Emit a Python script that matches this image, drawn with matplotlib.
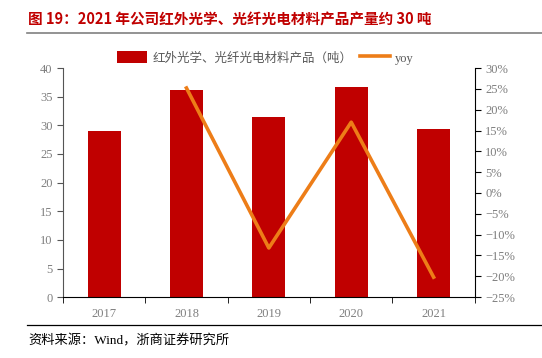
import matplotlib

matplotlib.use("Agg")
import matplotlib.pyplot as plt  # noqa: E402
import numpy as np  # noqa: E402
from matplotlib.ticker import FixedLocator, PercentFormatter  # noqa: E402

plt.rcParams["font.family"] = ["Liberation Serif", "Noto Sans CJK SC"]

years = ["2017", "2018", "2019", "2020", "2021"]
output_tons = [29.0, 36.2, 31.4, 36.7, 29.3]
yoy_years = ["2018", "2019", "2020", "2021"]
yoy_pct = [25.2, -13.2, 17.0, -20.2]

BAR_RED = "#C00000"
LINE_ORANGE = "#ED7D18"
TICK_GRAY = "#7F7F7F"

fig = plt.figure(figsize=(5.42, 3.58), dpi=100)
ax = fig.add_axes((0.116, 0.170, 0.760, 0.640))
x = np.arange(len(years))
bars = ax.bar(x, output_tons, width=0.4, color=BAR_RED, label="红外光学、光纤光电材料产品（吨）")
ax.set_xlim(-0.5, len(years) - 0.5)
ax.set_ylim(0, 40)
ax.set_yticks(np.arange(0, 41, 5))
ax.set_xticks(x)
ax.set_xticklabels(years)
ax.xaxis.set_minor_locator(FixedLocator(np.arange(-0.5, len(years), 1.0)))
ax.tick_params(axis="x", which="major", length=0, pad=8, labelsize=9, labelcolor=TICK_GRAY)
ax.tick_params(axis="x", which="minor", length=4, direction="out", color="black")
ax.tick_params(axis="y", length=4, direction="out", labelsize=9, labelcolor=TICK_GRAY, color="#555555")
ax.spines["top"].set_visible(False)
ax.spines["right"].set_visible(False)
ax.spines["left"].set_color("#555555")
ax.spines["bottom"].set_color("black")

ax2 = ax.twinx()
xi = [years.index(y) for y in yoy_years]
line, = ax2.plot(xi, yoy_pct, color=LINE_ORANGE, linewidth=2.6, label="yoy")
ax2.set_ylim(-25, 30)
ax2.set_yticks(np.arange(-25, 31, 5))
ax2.yaxis.set_major_formatter(PercentFormatter(decimals=0))
ax2.tick_params(axis="y", length=4, direction="out", labelsize=9, labelcolor=TICK_GRAY, color="black")
ax2.spines["top"].set_visible(False)
ax2.spines["left"].set_visible(False)
ax2.spines["bottom"].set_visible(False)
ax2.spines["right"].set_color("black")

fig.legend([bars, line], ["红外光学、光纤光电材料产品（吨）", "yoy"],
           loc="center", bbox_to_anchor=(0.49, 0.838), ncol=2, frameon=False,
           labelcolor="#595959", handlelength=2.4, handleheight=1.1, columnspacing=0.6,
           handletextpad=0.4, prop={"family": ["Liberation Serif", "Noto Sans CJK SC"], "size": 9})

fig.text(0.052, 0.945, "图 19：2021 年公司红外光学、光纤光电材料产品产量约 30 吨",
         color=BAR_RED, fontsize=10.5, fontweight="bold", family=["Noto Sans CJK SC"],
         va="center", ha="left")
fig.add_artist(plt.Line2D([0.05, 1.0], [0.908, 0.908], color="#808080", linewidth=1.2))
fig.add_artist(plt.Line2D([0.05, 1.0], [0.092, 0.092], color="black", linewidth=0.9))
fig.text(0.052, 0.048, "资料来源：Wind，浙商证券研究所", color="black", fontsize=9.5,
         family=["Liberation Serif", "Noto Sans CJK SC"], va="center", ha="left")

fig.savefig("out.png", dpi=100)
